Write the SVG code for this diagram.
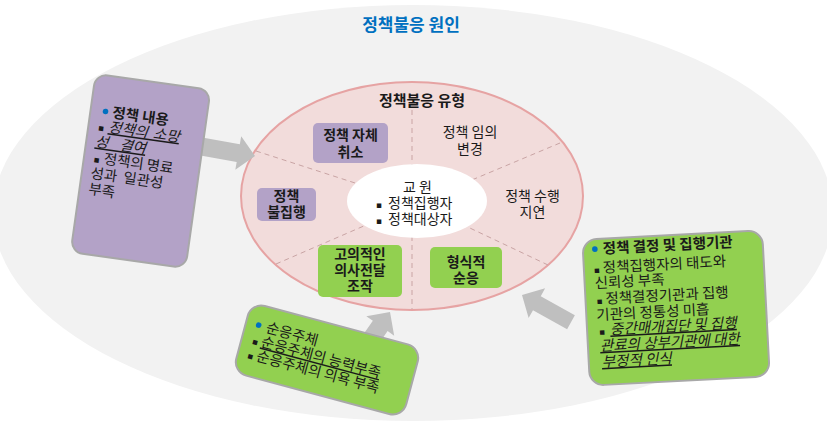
<svg xmlns="http://www.w3.org/2000/svg" width="827" height="427" viewBox="0 0 827 427">
<defs>
<style>
text{font-family:'Noto Sans CJK KR','Noto Sans CJK SC',sans-serif;fill:#1a1a1a;font-size:14px}
.cardtext text{font-size:14.5px}
.b{font-weight:700}
.c{text-anchor:middle}
.purple{fill:#b3a2c7}
.green{fill:#92d050}
.card{stroke:#a8a8a8;stroke-width:2}
.arrow{fill:#bfbfbf}
.dash{stroke:#c9a4a4;stroke-width:1;stroke-dasharray:5 4;fill:none}
.u{text-decoration:underline}
.i{font-style:italic}
.sq{font-family:'DejaVu Sans',sans-serif;font-size:9px}
.dot{fill:#0070c0}
</style>
</defs>
<rect width="827" height="427" fill="#ffffff"/>
<g id="outer">
<ellipse cx="413" cy="213" rx="420" ry="208" fill="#f2f2f2"/>
<text x="411" y="31" class="c b" style="font-size:17px;fill:#0070c0">정책불응 원인</text>
</g>
<g id="types">
<ellipse cx="412" cy="196" rx="171" ry="114" fill="#f2dcdb" stroke="#e6a3a3" stroke-width="2"/>
<line class="dash" x1="412" y1="110" x2="412" y2="309"/>
<line class="dash" x1="256" y1="151" x2="417" y2="203"/>
<line class="dash" x1="560" y1="143" x2="417" y2="203"/>
<line class="dash" x1="276" y1="264" x2="417" y2="203"/>
<line class="dash" x1="548" y1="265" x2="417" y2="203"/>
<text x="422" y="106" class="c b" style="font-size:15px">정책불응 유형</text>
</g>
<g id="factor">
<ellipse cx="417" cy="201" rx="70" ry="37" fill="#ffffff"/>
<text x="417.5" y="192" class="c">교 원</text>
<text y="208"><tspan x="376" class="sq">▪</tspan><tspan x="388">정책집행자</tspan></text>
<text y="224"><tspan x="376" class="sq">▪</tspan><tspan x="388">정책대상자</tspan></text>
</g>
<g id="type-cancel">
<rect x="313" y="123" width="75" height="40" rx="5" class="purple"/>
<text x="350.5" y="140" class="c b">정책 자체</text>
<text x="350.5" y="157" class="c b">취소</text>
</g>
<g id="type-arbitrary">
<text x="470" y="137" class="c">정책 임의</text>
<text x="470" y="154" class="c">변경</text>
</g>
<g id="type-nonexec">
<rect x="257" y="188" width="59" height="33" rx="5" class="purple"/>
<text x="286.5" y="201" class="c b">정책</text>
<text x="286.5" y="217" class="c b">불집행</text>
</g>
<g id="type-delay">
<text x="532.5" y="201" class="c">정책 수행</text>
<text x="532.5" y="217" class="c">지연</text>
</g>
<g id="type-manipulation">
<rect x="318" y="245" width="84" height="52" rx="5" class="green"/>
<text x="360" y="259" class="c b">고의적인</text>
<text x="360" y="275" class="c b">의사전달</text>
<text x="360" y="291" class="c b">조작</text>
</g>
<g id="type-formal">
<rect x="430" y="247" width="72" height="41" rx="5" class="green"/>
<text x="466" y="267" class="c b">형식적</text>
<text x="466" y="283" class="c b">순응</text>
</g>
<g id="connectors">
<polygon class="arrow" points="-58,-9 -17,-9 -17,-17 0,0 -17,17 -17,9 -58,9" transform="translate(255,156) rotate(10)"/>
<polygon class="arrow" points="-65,-9 -17,-9 -17,-17 0,0 -17,17 -17,9 -65,9" transform="translate(390,312) rotate(-55)"/>
<polygon class="arrow" points="-56,-8 -17,-8 -17,-17 0,0 -17,17 -17,8 -56,8" transform="translate(522,295) rotate(209)"/>
</g>
<g id="card-content" class="cardtext" transform="translate(141,168) rotate(8)">
<rect x="-58" y="-87" width="116" height="180" rx="12" class="purple card"/>
<circle cx="-43" cy="-51" r="2.8" class="dot"/>
<text x="-36" y="-46" class="b">정책 내용</text>
<text y="-31"><tspan x="-48" class="sq">▪</tspan><tspan x="-38" class="u i" word-spacing="2">정책의 소망</tspan></text>
<text y="-15"><tspan x="-49" class="u i" word-spacing="8">성 결여</tspan></text>
<text y="1"><tspan x="-48" class="sq">▪</tspan><tspan x="-38">정책의 명료</tspan></text>
<text y="17" x="-49" word-spacing="3">성과 일관성</text>
<text y="33" x="-49">부족</text>
</g>
<g id="card-agency" class="cardtext" transform="translate(676,307) rotate(-3)">
<rect x="-90" y="-72" width="180" height="146" rx="14" class="green card"/>
<circle cx="-78" cy="-62" r="2.8" class="dot"/>
<text x="-70" y="-57" class="b">정책 결정 및 집행기관</text>
<text y="-38"><tspan x="-80" class="sq">▪</tspan><tspan x="-71">정책집행자의 태도와</tspan></text>
<text y="-23" x="-80">신뢰성 부족</text>
<text y="-7"><tspan x="-79" class="sq">▪</tspan><tspan x="-70">정책결정기관과 집행</tspan></text>
<text y="9" x="-80">기관의 정통성 미흡</text>
<text y="24"><tspan x="-78" class="sq">▪</tspan><tspan x="-67" class="u i">중간매개집단 및 집행</tspan></text>
<text y="40" x="-78" class="u i">관료의 상부기관에 대한</text>
<text y="56" x="-77" class="u i">부정적 인식</text>
</g>
<g id="card-subject" class="cardtext" transform="translate(327,360) rotate(15)">
<rect x="-88" y="-36" width="176" height="72" rx="14" class="green card"/>
<circle cx="-75" cy="-16" r="2.8" class="dot"/>
<text x="-67" y="-11">순응주체</text>
<text y="4"><tspan x="-77" class="sq">▪</tspan><tspan x="-68" class="u">순응주체의 능력부족</tspan></text>
<text y="19"><tspan x="-78" class="sq">▪</tspan><tspan x="-69">순응주체의 의욕 부족</tspan></text>
</g>
</svg>
